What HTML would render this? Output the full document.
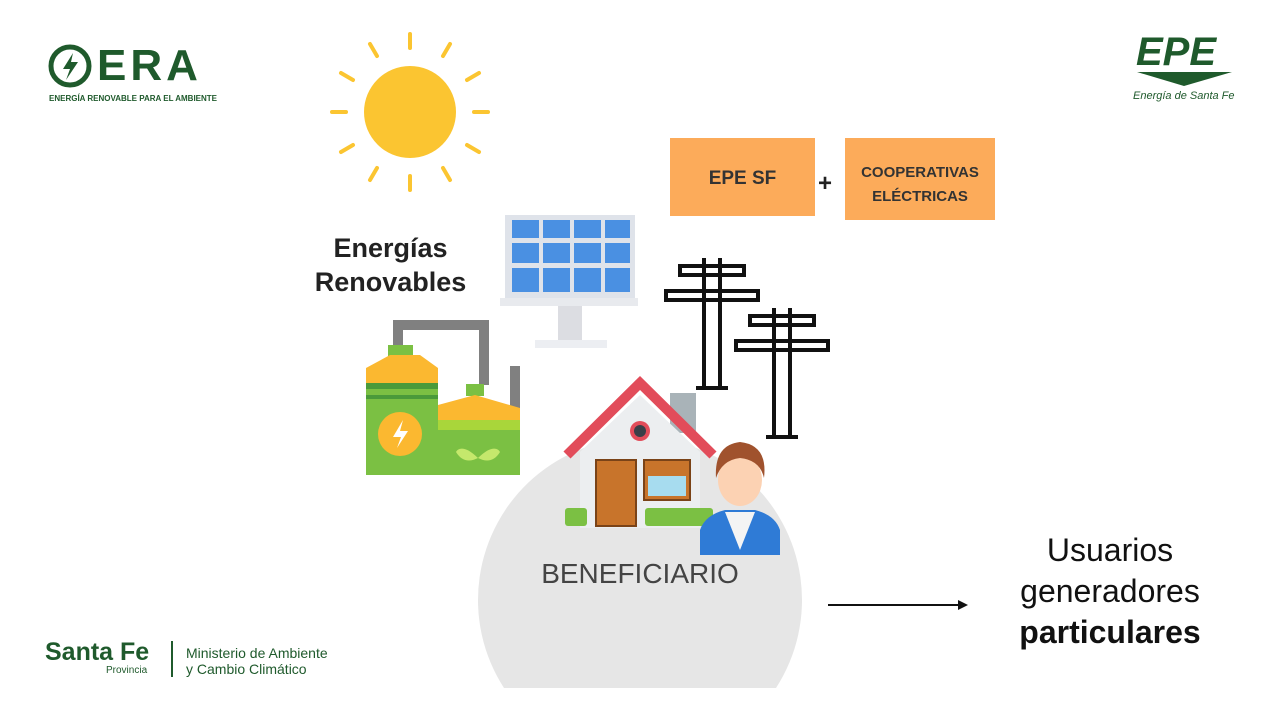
<!DOCTYPE html>
<html><head><meta charset="utf-8"><style>
html,body{margin:0;padding:0;background:#fff;}
body{width:1280px;height:720px;overflow:hidden;position:relative;font-family:"Liberation Sans",sans-serif;}
.t{position:absolute;white-space:nowrap;}
</style></head><body>
<svg width="1280" height="720" style="position:absolute;left:0;top:0">
<!-- dome -->
<path d="M504,688 A162,162 0 1 1 776,688 Z" fill="#e6e6e6"/>
<!-- sun -->
<circle cx="410" cy="112" r="46" fill="#fbc531"/>
<g stroke="#fbc531" stroke-width="4" stroke-linecap="round">
<line x1="410" y1="34" x2="410" y2="48"/><line x1="410" y1="176" x2="410" y2="190"/>
<line x1="332" y1="112" x2="346" y2="112"/><line x1="474" y1="112" x2="488" y2="112"/>
<line x1="370" y1="44" x2="377" y2="56"/><line x1="443" y1="168" x2="450" y2="180"/>
<line x1="450" y1="44" x2="443" y2="56"/><line x1="377" y1="168" x2="370" y2="180"/>
<line x1="341" y1="73" x2="353" y2="80"/><line x1="467" y1="145" x2="479" y2="152"/>
<line x1="479" y1="73" x2="467" y2="80"/><line x1="353" y1="145" x2="341" y2="152"/>
</g>
<!-- solar panel -->
<rect x="505" y="215" width="130" height="85" fill="#dfe3ea"/>
<g fill="#4a90e2">
<rect x="512" y="220" width="27" height="18"/><rect x="543" y="220" width="27" height="18"/><rect x="574" y="220" width="27" height="18"/><rect x="605" y="220" width="25" height="18"/>
<rect x="512" y="243" width="27" height="20"/><rect x="543" y="243" width="27" height="20"/><rect x="574" y="243" width="27" height="20"/><rect x="605" y="243" width="25" height="20"/>
<rect x="512" y="268" width="27" height="24"/><rect x="543" y="268" width="27" height="24"/><rect x="574" y="268" width="27" height="24"/><rect x="605" y="268" width="25" height="24"/>
</g>
<rect x="500" y="298" width="138" height="8" fill="#e8eaee"/>
<rect x="558" y="306" width="24" height="34" fill="#dcdde2"/>
<rect x="535" y="340" width="72" height="8" fill="#eceef2"/>
<!-- biogas plant -->
<path d="M398,360 V325 H484 V385" fill="none" stroke="#808080" stroke-width="10"/>
<rect x="510" y="366" width="10" height="45" fill="#808080"/>
<rect x="388" y="345" width="25" height="15" fill="#7bc043"/>
<path d="M366,385 V368 L390,355 H420 L438,368 V385 Z" fill="#fbb830"/>
<rect x="366" y="385" width="72" height="90" fill="#7bc043"/>
<rect x="366" y="383" width="72" height="6" fill="#4a9a3a"/>
<rect x="366" y="395" width="72" height="4" fill="#4a9a3a"/>
<rect x="466" y="384" width="18" height="12" fill="#7bc043"/>
<path d="M438,420 V405 L475,395 L520,408 V420 Z" fill="#fbb830"/>
<rect x="438" y="420" width="82" height="55" fill="#7bc043"/>
<rect x="438" y="420" width="82" height="10" fill="#a9d63a"/>
<circle cx="400" cy="434" r="22" fill="#fbb830"/>
<path d="M403,420 L393,437 H401 L397,448 L408,431 H400 Z" fill="#fff"/>
<path d="M478,458 C465,445 458,448 456,452 C462,462 470,462 478,458 C486,462 494,462 500,452 C498,448 491,445 478,458Z" fill="#c5e86c"/>
<!-- poles -->
<g stroke="#111" stroke-width="4" fill="none">
<rect x="680" y="266" width="64" height="9"/><rect x="666" y="291" width="92" height="9"/>
<line x1="704" y1="258" x2="704" y2="388"/><line x1="720" y1="258" x2="720" y2="388"/>
<line x1="696" y1="388" x2="728" y2="388"/>
<rect x="750" y="316" width="64" height="9"/><rect x="736" y="341" width="92" height="9"/>
<line x1="774" y1="308" x2="774" y2="437"/><line x1="790" y1="308" x2="790" y2="437"/>
<line x1="766" y1="437" x2="798" y2="437"/>
</g>
<!-- house -->
<rect x="670" y="393" width="26" height="40" fill="#a9b3b8"/>
<path d="M580,452 L640,395 L700,452 V528 H580 Z" fill="#eceef0"/>
<path d="M567,455 L640,383 L713,455" fill="none" stroke="#e24c5a" stroke-width="10"/>
<circle cx="640" cy="431" r="10" fill="#e24c5a"/><circle cx="640" cy="431" r="6" fill="#3a3f48"/>
<rect x="596" y="460" width="40" height="66" fill="#c8742b" stroke="#7a4318" stroke-width="2"/>
<rect x="644" y="460" width="46" height="40" fill="#c8742b" stroke="#7a4318" stroke-width="2"/>
<rect x="648" y="476" width="38" height="20" fill="#a7dcef"/>
<rect x="565" y="508" width="22" height="18" rx="3" fill="#7bc043"/>
<rect x="645" y="508" width="68" height="18" rx="3" fill="#7bc043"/>
<!-- person -->
<path d="M700,555 V530 Q705,515 725,510 H755 Q775,515 780,530 V555 Z" fill="#2f7bd6"/>
<path d="M725,512 L740,550 L755,512 Z" fill="#f4f4f4"/>
<ellipse cx="740" cy="480" rx="22" ry="26" fill="#fcd2b3"/>
<path d="M716,478 Q714,445 740,442 Q768,445 764,478 Q760,460 740,458 Q722,460 716,478Z" fill="#a0522d"/>
<!-- arrow -->
<line x1="828" y1="605" x2="960" y2="605" stroke="#111" stroke-width="2"/>
<path d="M958,600 L968,605 L958,610 Z" fill="#111"/>
<!-- orange boxes -->
<rect x="670" y="138" width="145" height="78" fill="#fcab5a"/>
<rect x="845" y="138" width="150" height="82" fill="#fcab5a"/>
<!-- ERA logo -->
<circle cx="70" cy="66" r="19" fill="none" stroke="#1f5a2c" stroke-width="5"/>
<path d="M73,53 L63,69 H70 L66,80 L78,62 H71 Z" fill="#1f5a2c"/>
<!-- EPE arrow -->
<path d="M1137,72 H1232 L1184,86 Z" fill="#1f5a2c"/>
<!-- santa fe divider -->
<line x1="172" y1="641" x2="172" y2="677" stroke="#1f5a2c" stroke-width="2"/>
</svg>
<div class="t" style="left:97px;top:44px;font-size:44px;font-weight:bold;color:#1f5a2c;letter-spacing:4px;line-height:44px">ERA</div>
<div class="t" style="left:49px;top:94px;font-size:8px;color:#1f5a2c;font-weight:bold">ENERGÍA RENOVABLE PARA EL AMBIENTE</div>
<div class="t" style="left:1136px;top:30px;font-size:40px;font-weight:bold;font-style:italic;color:#1f5a2c;line-height:44px">EPE</div>
<div class="t" style="left:1133px;top:90px;font-size:11px;color:#1f5a2c;font-style:italic">Energía de Santa Fe</div>
<div class="t" style="left:303px;top:231px;font-size:27px;font-weight:bold;color:#222;text-align:center;line-height:34px;width:175px">Energías<br>Renovables</div>
<div class="t" style="left:670px;top:168px;width:145px;text-align:center;font-size:19px;font-weight:bold;color:#333">EPE SF</div>
<div class="t" style="left:818px;top:170px;font-size:24px;font-weight:bold;color:#222">+</div>
<div class="t" style="left:845px;top:161px;width:150px;text-align:center;font-size:15px;font-weight:bold;color:#333;line-height:24px">COOPERATIVAS<br>ELÉCTRICAS</div>
<div class="t" style="left:480px;top:558px;width:320px;text-align:center;font-size:28px;color:#444">BENEFICIARIO</div>
<div class="t" style="left:990px;top:530px;width:240px;text-align:center;font-size:32px;color:#111;line-height:41px">Usuarios<br>generadores<br><b>particulares</b></div>
<div class="t" style="left:45px;top:638px;font-size:25px;font-weight:bold;color:#1f5a2c">Santa Fe</div>
<div class="t" style="left:106px;top:665px;font-size:10px;color:#1f5a2c">Provincia</div>
<div class="t" style="left:186px;top:645px;font-size:14px;color:#1f5a2c;line-height:16px">Ministerio de Ambiente<br>y Cambio Climático</div>
</body></html>
